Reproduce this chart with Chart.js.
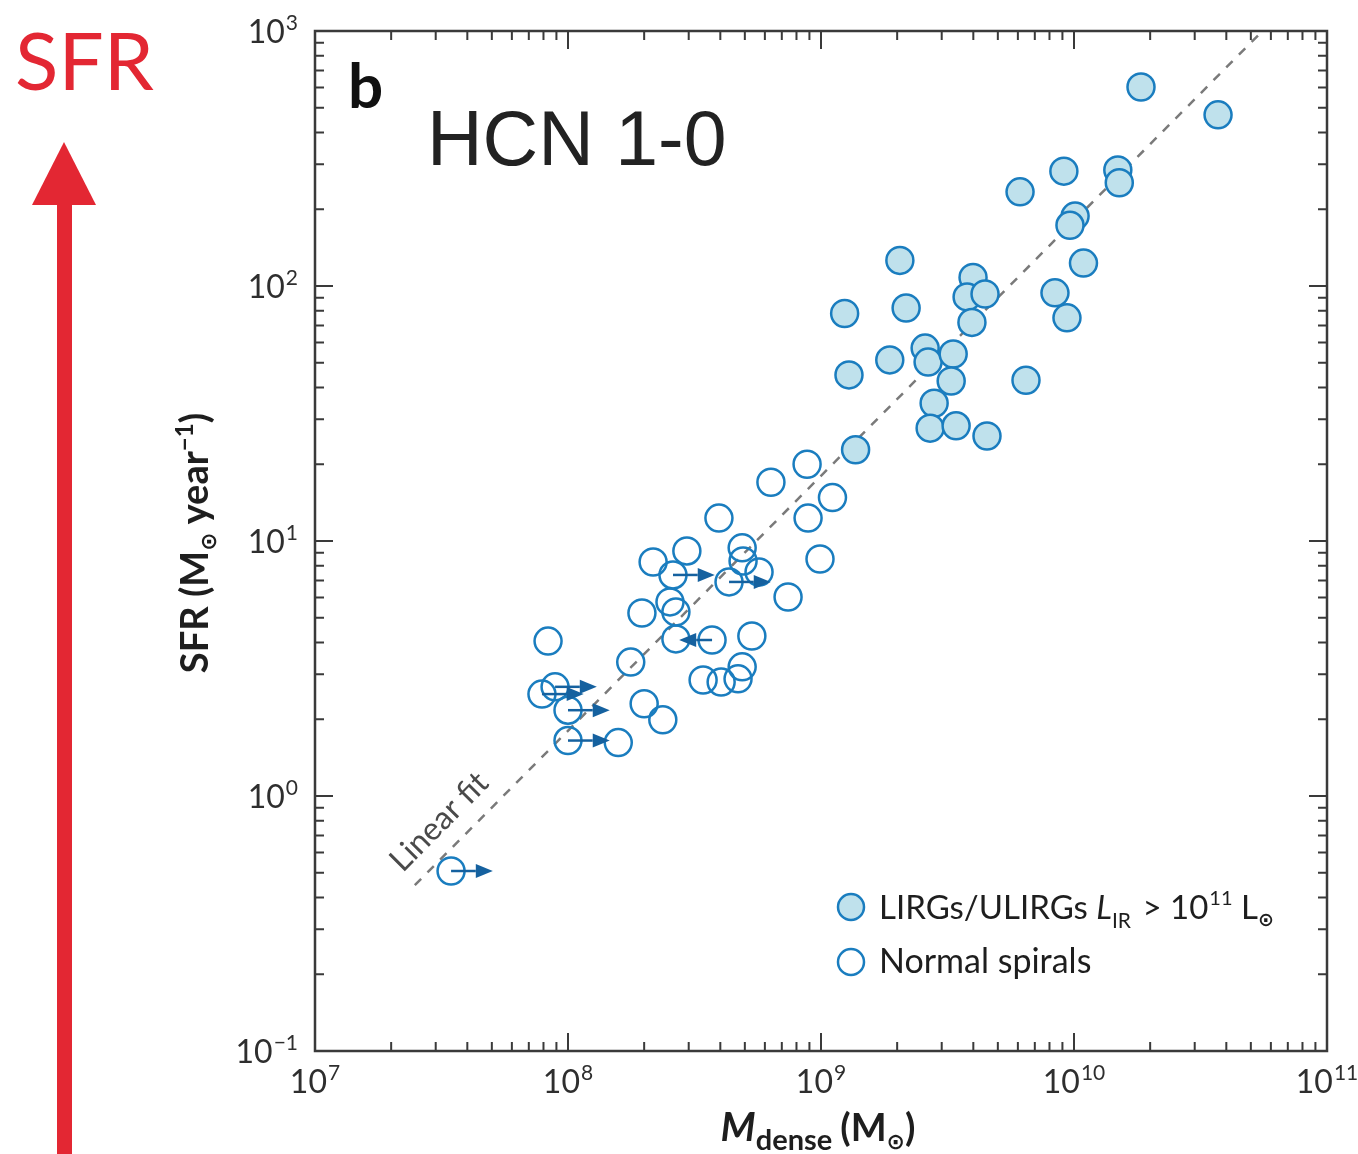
<!DOCTYPE html>
<html>
<head>
<meta charset="utf-8">
<title>SFR vs dense gas mass (HCN 1-0)</title>
<script src="https://cdn.jsdelivr.net/npm/chart.js@4/dist/chart.umd.min.js"></script>
<style>
  html, body { margin: 0; padding: 0; background: #ffffff; }
  #wrap { position: relative; width: 1358px; height: 1154px; }
  canvas { display: block; }
</style>
</head>
<body>
<div id="wrap"><canvas id="chart" width="1358" height="1154"></canvas></div>
<script>
// Dense gas mass (M_sun) and star formation rate (M_sun / yr)

// LIRGs / ULIRGs (filled symbols)
const lirgMass = [1.84e10, 3.71e10, 6.12e9, 9.12e9, 1.49e10, 1.51e10, 1.01e10, 9.64e9,
                  1.09e10, 8.41e9, 9.38e9, 2.05e9, 1.24e9, 2.17e9, 3.99e9, 3.78e9,
                  4.45e9, 3.95e9, 1.29e9, 1.87e9, 2.58e9, 2.65e9, 3.33e9, 3.27e9,
                  2.80e9, 2.70e9, 3.42e9, 4.53e9, 1.37e9, 6.46e9];
const lirgSFR  = [603, 469, 234, 282, 285, 254, 188, 173,
                  123, 94, 75, 126, 78, 82, 108, 90.6,
                  93, 72, 44.8, 51.3, 57.1, 50.3, 54.1, 42.4,
                  34.7, 27.7, 28.3, 25.8, 22.8, 42.7];

// Normal spirals (open symbols)
const spiralMass = [8.81e8, 6.34e8, 1.11e9, 8.89e8, 3.95e8, 9.91e8, 2.17e8, 2.95e8,
                    4.88e8, 4.92e8, 5.69e8, 2.60e8, 4.33e8, 7.41e8, 1.96e8, 2.53e8,
                    2.67e8, 2.67e8, 3.71e8, 5.33e8, 8.34e7, 1.77e8, 3.42e8, 4.03e8,
                    4.88e8, 4.70e8, 7.89e7, 8.89e7, 1.0e8, 2.0e8, 2.37e8, 1.0e8,
                    1.58e8, 3.45e7];
const spiralSFR  = [20.0, 17.0, 14.8, 12.3, 12.3, 8.5, 8.27, 9.14,
                    9.40, 8.35, 7.56, 7.36, 6.91, 6.03, 5.22, 5.77,
                    5.27, 4.13, 4.09, 4.24, 4.05, 3.35, 2.85, 2.80,
                    3.21, 2.88, 2.51, 2.68, 2.17, 2.30, 1.99, 1.65,
                    1.62, 0.508];
// Limit flags on M_dense: 1 = lower limit (arrow right), -1 = arrow left, 0 = none
const spiralLimit = [0, 0, 0, 0, 0, 0, 0, 0,
                     0, 0, 0, 1, 1, 0, 0, 0,
                     0, 0, -1, 0, 0, 0, 0, 0,
                     0, 0, 1, 1, 1, 0, 0, 1,
                     0, 1];

// Linear fit end points
const fitMass = [2.48e7, 5.5e10];
const fitSFR  = [0.447, 990];

// Axis ranges and decade tick labels
const xMin = 1e7, xMax = 1e11;
const yMin = 0.1, yMax = 1000;
const xTickExp = ['7', '8', '9', '10', '11'];
const yTickExp = ['\u22121', '0', '1', '2', '3'];

const BLUE = '#1a7dbf';
const FILL = '#bfe1ec';
const ARROW = '#15619f';
const AXIS = '#3a3a3a';
const LABEL = '#2e2e2e';

function toPoints(xs, ys) { return xs.map((x, i) => ({ x: x, y: ys[i] })); }

function runsWidth(ctx, runs) {
  let w = 0;
  for (const r of runs) { ctx.font = r.font; w += ctx.measureText(r.text).width + (r.gap || 0); }
  return w;
}
function drawRuns(ctx, runs, x, y) {
  let cx = x;
  for (const r of runs) {
    ctx.font = r.font;
    ctx.fillText(r.text, cx, y + (r.dy || 0));
    cx += ctx.measureText(r.text).width + (r.gap || 0);
  }
}

// Frame, inward ticks, tick labels, axis titles, limit arrows, legend and annotations
const decor = {
  id: 'decor',
  afterDatasetsDraw(chart) {
    const ctx = chart.ctx;
    const a = chart.chartArea;
    const xs = chart.scales.x, ys = chart.scales.y;
    ctx.save();

    // limit arrows
    const dexLen = 0.165;
    ctx.strokeStyle = ARROW; ctx.fillStyle = ARROW; ctx.lineWidth = 2.5;
    spiralLimit.forEach((f, i) => {
      if (!f) return;
      const x0 = xs.getPixelForValue(spiralMass[i]);
      const y0 = ys.getPixelForValue(spiralSFR[i]);
      const len = f > 0 ? dexLen : 0.13;
      const x1 = xs.getPixelForValue(spiralMass[i] * Math.pow(10, f * len));
      const dir = Math.sign(x1 - x0);
      const hx = x1 - dir * 17;
      ctx.beginPath(); ctx.moveTo(x0, y0); ctx.lineTo(hx, y0); ctx.stroke();
      ctx.beginPath(); ctx.moveTo(x1, y0); ctx.lineTo(hx, y0 - 7); ctx.lineTo(hx, y0 + 7); ctx.closePath(); ctx.fill();
    });

    // frame
    ctx.strokeStyle = AXIS; ctx.lineWidth = 2.5;
    ctx.strokeRect(a.left, a.top, a.right - a.left, a.bottom - a.top);

    // ticks on all four sides, pointing inward
    ctx.lineWidth = 2;
    for (let e = 7; e <= 11; e++) {
      for (let m = 1; m <= 9; m++) {
        const v = m * Math.pow(10, e);
        if (v > xMax || (m === 1 && (e === 7 || e === 11))) continue;
        const px = xs.getPixelForValue(v);
        const L = m === 1 ? 18 : 9;
        ctx.beginPath();
        ctx.moveTo(px, a.bottom); ctx.lineTo(px, a.bottom - L);
        ctx.moveTo(px, a.top); ctx.lineTo(px, a.top + L);
        ctx.stroke();
      }
    }
    for (let e = -1; e <= 3; e++) {
      for (let m = 1; m <= 9; m++) {
        const v = m * Math.pow(10, e);
        if (v > yMax || (m === 1 && (e === -1 || e === 3))) continue;
        const py = ys.getPixelForValue(v);
        const L = m === 1 ? 18 : 9;
        ctx.beginPath();
        ctx.moveTo(a.left, py); ctx.lineTo(a.left + L, py);
        ctx.moveTo(a.right, py); ctx.lineTo(a.right - L, py);
        ctx.stroke();
      }
    }

    // tick labels
    ctx.fillStyle = LABEL; ctx.textBaseline = 'alphabetic'; ctx.textAlign = 'left';
    const base = '32px Lato', sup = '21px Lato';
    xTickExp.forEach((ex) => {
      const px = xs.getPixelForValue(Math.pow(10, Number(ex)));
      const runs = [{ text: '10', font: base, gap: 1 }, { text: ex, font: sup, dy: -13 }];
      const w = runsWidth(ctx, runs);
      drawRuns(ctx, runs, px - w / 2, 1093);
    });
    yTickExp.forEach((ex) => {
      const v = Math.pow(10, Number(ex.replace('\u2212', '-')));
      const py = ys.getPixelForValue(v);
      const runs = [{ text: '10', font: base, gap: 1 }, { text: ex, font: sup, dy: -13 }];
      const w = runsWidth(ctx, runs);
      drawRuns(ctx, runs, 298 - w, py + 12);
    });

    // x axis title
    ctx.fillStyle = '#1e1e1e';
    const xt = [
      { text: 'M', font: 'italic bold 40px Lato' },
      { text: 'dense', font: 'bold 29px Lato', dy: 9, gap: 8 },
      { text: '(M', font: 'bold 38px Lato' },
      { text: '\u2299', font: 'bold 22px "DejaVu Sans"', dy: 8 },
      { text: ')', font: 'bold 38px Lato' }
    ];
    const xtw = runsWidth(ctx, xt);
    drawRuns(ctx, xt, 818 - xtw / 2, 1141);

    // y axis title
    ctx.save();
    ctx.translate(208, 543);
    ctx.rotate(-Math.PI / 2);
    const yt = [
      { text: 'SFR (M', font: 'bold 38px Lato' },
      { text: '\u2299', font: 'bold 22px "DejaVu Sans"', dy: 8, gap: 8 },
      { text: 'year', font: 'bold 38px Lato' },
      { text: '\u22121', font: 'bold 24px Lato', dy: -15 },
      { text: ')', font: 'bold 38px Lato' }
    ];
    const ytw = runsWidth(ctx, yt);
    drawRuns(ctx, yt, -ytw / 2, 0);
    ctx.restore();

    // legend
    ctx.lineWidth = 2.5; ctx.strokeStyle = BLUE;
    ctx.beginPath(); ctx.arc(851, 907, 13, 0, Math.PI * 2);
    ctx.fillStyle = FILL; ctx.fill(); ctx.stroke();
    ctx.beginPath(); ctx.arc(851, 962, 13, 0, Math.PI * 2);
    ctx.fillStyle = '#ffffff'; ctx.fill(); ctx.stroke();
    ctx.fillStyle = '#1e1e1e';
    drawRuns(ctx, [
      { text: 'LIRGs/ULIRGs ', font: '33px Lato' },
      { text: 'L', font: 'italic 33px Lato' },
      { text: 'IR', font: '21px Lato', dy: 9, gap: 3 },
      { text: ' > 10', font: '33px Lato', gap: 1 },
      { text: '11', font: '20px Lato', dy: -14 },
      { text: ' L', font: '33px Lato' },
      { text: '\u2299', font: 'bold 19px "DejaVu Sans"', dy: 7 }
    ], 879, 919);
    drawRuns(ctx, [{ text: 'Normal spirals', font: '34px Lato' }], 879, 973);

    // fit label, aligned with the fit line
    const fx0 = xs.getPixelForValue(fitMass[0]), fy0 = ys.getPixelForValue(fitSFR[0]);
    const fx1 = xs.getPixelForValue(fitMass[1]), fy1 = ys.getPixelForValue(fitSFR[1]);
    const ang = Math.atan2(fy1 - fy0, fx1 - fx0);
    ctx.save();
    ctx.translate(fx0 - 12, fy0 - 12);
    ctx.rotate(ang);
    ctx.fillStyle = '#4a4a4a';
    ctx.font = '32px Lato';
    ctx.fillText('Linear fit', 0, 0);
    ctx.restore();

    // panel letter and line name
    ctx.fillStyle = '#111111';
    ctx.font = 'bold 62px Lato';
    ctx.fillText('b', 348, 108);
    ctx.fillStyle = '#222222';
    ctx.font = '77px "Liberation Sans"';
    ctx.fillText('HCN 1-0', 427, 165);

    // red SFR arrow and label
    ctx.fillStyle = '#e32733';
    ctx.font = '80px Lato';
    ctx.fillText('SFR', 15, 90);
    ctx.fillRect(57, 200, 15, 960);
    ctx.beginPath(); ctx.moveTo(64, 142); ctx.lineTo(96, 205); ctx.lineTo(32, 205); ctx.closePath(); ctx.fill();

    ctx.restore();
  }
};

new Chart(document.getElementById('chart'), {
  type: 'scatter',
  data: {
    datasets: [
      {
        label: 'LIRGs/ULIRGs',
        data: toPoints(lirgMass, lirgSFR),
        pointRadius: 13.5, pointBorderWidth: 2.5,
        backgroundColor: FILL, borderColor: BLUE,
        order: 1
      },
      {
        label: 'Normal spirals',
        data: toPoints(spiralMass, spiralSFR),
        pointRadius: 13.5, pointBorderWidth: 2.5,
        backgroundColor: 'rgba(255,255,255,0)', borderColor: BLUE,
        order: 2
      },
      {
        label: 'Linear fit',
        type: 'line',
        data: toPoints(fitMass, fitSFR),
        borderColor: '#7a7a7a', borderWidth: 2.5, borderDash: [9, 9],
        pointRadius: 0, fill: false,
        order: 3
      }
    ]
  },
  options: {
    responsive: false,
    animation: false,
    devicePixelRatio: 1,
    layout: { padding: { left: 315, right: 31, top: 31, bottom: 103 } },
    plugins: { legend: { display: false }, tooltip: { enabled: false } },
    scales: {
      x: {
        type: 'logarithmic', min: xMin, max: xMax,
        ticks: { display: false }, grid: { display: false }, border: { display: false },
        afterFit(s) { s.height = 0; }
      },
      y: {
        type: 'logarithmic', min: yMin, max: yMax,
        ticks: { display: false }, grid: { display: false }, border: { display: false },
        afterFit(s) { s.width = 0; }
      }
    }
  },
  plugins: [decor]
});
</script>
</body>
</html>
